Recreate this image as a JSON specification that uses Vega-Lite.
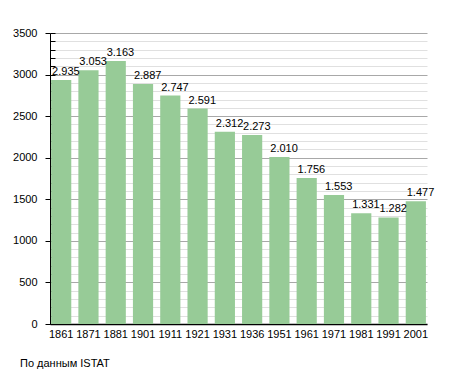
{
  "$schema": "https://vega.github.io/schema/vega-lite/v6.json",
  "autosize": "none",
  "width": 377,
  "height": 291,
  "padding": {"left": 50, "top": 33, "right": 28, "bottom": 49},
  "background": "white",
  "title": {"text": "По данным ISTAT", "orient": "bottom", "anchor": "start", "frame": "group", "dx": -30, "offset": 19, "fontSize": 11, "fontWeight": "normal", "font": "Liberation Sans", "color": "#000"},
  "config": {
    "locale": {"number": {"decimal": ",", "thousands": ".", "grouping": [3], "currency": ["", "€"]}},
    "view": {"stroke": null},
    "font": "Liberation Sans"
  },
  "data": {"values": [
    {"year": "1861", "pop": 2935},
    {"year": "1871", "pop": 3053},
    {"year": "1881", "pop": 3163},
    {"year": "1901", "pop": 2887},
    {"year": "1911", "pop": 2747},
    {"year": "1921", "pop": 2591},
    {"year": "1931", "pop": 2312},
    {"year": "1936", "pop": 2273},
    {"year": "1951", "pop": 2010},
    {"year": "1961", "pop": 1756},
    {"year": "1971", "pop": 1553},
    {"year": "1981", "pop": 1331},
    {"year": "1991", "pop": 1282},
    {"year": "2001", "pop": 1477}
  ]},
  "resolve": {"axis": {"y": "independent"}},
  "layer": [
    {
      "mark": {"type": "bar", "color": "#97cb97"},
      "encoding": {
        "x": {"field": "year", "type": "ordinal", "sort": null,
              "scale": {"paddingInner": 0.26, "paddingOuter": 0.04},
              "axis": {"title": null, "labelAngle": 0, "ticks": false, "labelPadding": 4, "labelFontSize": 11, "labelColor": "#000", "domainColor": "#000", "domainWidth": 1.5}},
        "y": {"field": "pop", "type": "quantitative",
              "scale": {"domain": [0, 3500], "nice": false},
              "axis": {"title": null, "values": [0, 500, 1000, 1500, 2000, 2500, 3000, 3500], "format": "d",
                       "grid": false, "tickSize": 5, "tickColor": "#000", "labelPadding": 8, "labelFontSize": 11, "labelColor": "#000", "domainColor": "#000", "domainWidth": 1}}
      }
    },
    {
      "mark": {"type": "text", "align": "left", "baseline": "alphabetic", "dy": -5, "dx": 1, "fontSize": 11, "color": "#000"},
      "encoding": {
        "x": {"field": "year", "type": "ordinal", "sort": null, "bandPosition": 0},
        "y": {"field": "pop", "type": "quantitative",
              "axis": {"orient": "left", "title": null, "labels": false, "domain": false, "tickSize": -5, "tickColor": "#000",
                       "values": [0,100,200,300,400,500,600,700,800,900,1000,1100,1200,1300,1400,1500,1600,1700,1800,1900,2000,2100,2200,2300,2400,2500,2600,2700,2800,2900,3000,3100,3200,3300,3400,3500],
                       "grid": true,
                       "gridColor": {"condition": {"test": "datum.value % 500 === 0", "value": "#a8a8a8"}, "value": "#e0e0e0"},
                       "gridWidth": 1}},
        "text": {"field": "pop", "type": "quantitative", "format": ",d"}
      }
    }
  ]
}
